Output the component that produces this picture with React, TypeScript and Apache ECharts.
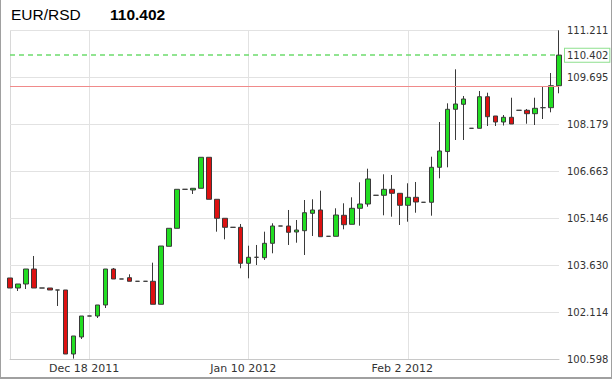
import React, { useEffect, useRef } from 'react';
import * as echarts from 'echarts';

const pairName = 'EUR/RSD';

const categories = [
  'Dec 6 2011', 'Dec 7 2011', 'Dec 8 2011', 'Dec 9 2011', 'Dec 11 2011', 'Dec 12 2011', 'Dec 13 2011',
  'Dec 14 2011', 'Dec 15 2011', 'Dec 16 2011', 'Dec 18 2011', 'Dec 19 2011', 'Dec 20 2011', 'Dec 21 2011',
  'Dec 22 2011', 'Dec 23 2011', 'Dec 25 2011', 'Dec 26 2011', 'Dec 27 2011', 'Dec 28 2011', 'Dec 29 2011',
  'Dec 30 2011', 'Jan 1 2012', 'Jan 2 2012', 'Jan 3 2012', 'Jan 4 2012', 'Jan 5 2012', 'Jan 6 2012',
  'Jan 8 2012', 'Jan 9 2012', 'Jan 10 2012', 'Jan 11 2012', 'Jan 12 2012', 'Jan 13 2012', 'Jan 15 2012',
  'Jan 16 2012', 'Jan 17 2012', 'Jan 18 2012', 'Jan 19 2012', 'Jan 20 2012', 'Jan 22 2012', 'Jan 23 2012',
  'Jan 24 2012', 'Jan 25 2012', 'Jan 26 2012', 'Jan 27 2012', 'Jan 29 2012', 'Jan 30 2012', 'Jan 31 2012',
  'Feb 1 2012', 'Feb 2 2012', 'Feb 3 2012', 'Feb 5 2012', 'Feb 6 2012', 'Feb 7 2012', 'Feb 8 2012',
  'Feb 9 2012', 'Feb 10 2012', 'Feb 12 2012', 'Feb 13 2012', 'Feb 14 2012', 'Feb 15 2012', 'Feb 16 2012',
  'Feb 17 2012', 'Feb 19 2012', 'Feb 20 2012', 'Feb 21 2012', 'Feb 22 2012', 'Feb 23 2012', 'Feb 24 2012',
];

const opens = [
  103.211, 102.888, 103.017, 103.501, 102.888, 102.888, 102.824, 102.824, 100.759, 101.308,
  101.985, 101.985, 102.340, 103.501, 103.179, 103.221, 103.105, 103.105, 103.105, 102.363,
  104.234, 104.814, 106.072, 106.050, 106.105, 107.105, 105.750, 105.137, 104.846, 104.846,
  103.685, 103.879, 103.866, 104.330, 104.888, 104.888, 104.695, 104.737, 105.298, 105.405,
  104.556, 104.556, 105.234, 104.943, 105.459, 105.598, 105.879, 105.879, 106.072, 105.943,
  105.556, 105.814, 105.653, 105.653, 106.782, 107.290, 108.653, 108.814, 108.040, 108.040,
  109.059, 108.437, 108.243, 108.395, 108.621, 108.621, 108.511, 108.705, 108.705, 109.414,
];
const closes = [
  102.888, 103.017, 103.501, 102.888, 102.888, 102.824, 102.824, 100.759, 101.340, 101.985,
  101.985, 102.340, 103.501, 103.179, 103.179, 103.105, 103.105, 103.105, 102.363, 104.243,
  104.814, 106.072, 106.072, 106.105, 107.105, 105.750, 105.137, 104.846, 104.846, 103.685,
  103.879, 103.879, 104.330, 104.888, 104.888, 104.685, 104.759, 105.317, 105.405, 104.543,
  104.556, 105.243, 104.930, 105.459, 105.598, 106.405, 105.879, 106.072, 105.943, 105.556,
  105.814, 105.663, 105.653, 106.782, 107.308, 108.653, 108.824, 108.985, 108.040, 109.059,
  108.414, 108.243, 108.395, 108.179, 108.621, 108.511, 108.685, 108.705, 109.414, 110.402,
];
const lows = [
  102.888, 102.792, 102.856, 102.888, 102.888, 102.824, 102.308, 100.759, 100.610, 101.243,
  101.985, 101.921, 102.243, 103.179, 103.179, 103.105, 103.105, 103.105, 102.363, 102.363,
  104.234, 104.814, 106.072, 105.921, 106.105, 105.750, 104.705, 104.459, 104.846, 103.524,
  103.201, 103.630, 103.792, 104.008, 104.888, 104.276, 104.350, 103.953, 104.566, 104.543,
  104.556, 104.556, 104.782, 104.943, 104.898, 105.511, 105.879, 105.234, 105.188, 104.921,
  105.027, 105.317, 105.653, 105.221, 106.427, 106.782, 107.663, 107.663, 108.040, 108.040,
  108.114, 108.114, 108.130, 108.179, 108.621, 108.188, 108.146, 108.340, 108.556, 109.169,
];
const highs = [
  103.211, 103.017, 103.501, 103.921, 102.888, 102.888, 102.824, 102.824, 101.340, 101.985,
  101.985, 102.340, 103.501, 103.534, 103.179, 103.330, 103.105, 103.105, 103.705, 104.243,
  104.814, 106.072, 106.072, 106.105, 107.105, 107.105, 105.750, 105.137, 104.846, 104.953,
  104.253, 104.276, 104.705, 104.976, 104.888, 105.405, 105.082, 105.727, 105.750, 106.027,
  104.556, 105.459, 105.621, 105.814, 106.298, 106.737, 105.879, 106.556, 106.534, 105.943,
  106.266, 106.308, 105.653, 107.124, 108.243, 108.846, 109.943, 109.082, 108.040, 109.243,
  109.188, 108.437, 108.469, 109.027, 108.621, 108.663, 109.027, 109.372, 109.824, 111.200,
];

const yTicks = [100.598, 102.114, 103.63, 105.146, 106.663, 108.179, 109.695, 111.211];
const xTickLabels = ['Dec 18 2011', 'Jan 10 2012', 'Feb 2 2012'];
const referenceLevel = 109.405;

export default function App() {
  const ref = useRef<HTMLDivElement>(null);

  useEffect(() => {
    if (!ref.current) return;
    const chart = echarts.init(ref.current, null, { renderer: 'svg' });
    const lastClose = closes[closes.length - 1];
    const yMin = yTicks[0];
    const yMax = yTicks[yTicks.length - 1];
    const yInterval = +((yMax - yMin) / (yTicks.length - 1)).toFixed(6);
    const ohlc = categories.map((_, i) => [opens[i], closes[i], lows[i], highs[i]]);
    const showX = (i: number) => xTickLabels.indexOf(categories[i]) >= 0;

    chart.setOption({
      animation: false,
      backgroundColor: '#ffffff',
      title: [
        {
          text: pairName,
          left: 11,
          top: 5,
          padding: 0,
          textStyle: { fontFamily: 'Liberation Sans', fontSize: 15.5, fontWeight: 'normal', color: '#000', lineHeight: 18 },
        },
        {
          text: lastClose.toFixed(3),
          left: 110,
          top: 5,
          padding: 0,
          textStyle: { fontFamily: 'Liberation Sans', fontSize: 15.5, fontWeight: 'bold', color: '#000', lineHeight: 18 },
        },
      ],
      grid: { left: 10, right: 53, top: 30, bottom: 20, containLabel: false },
      xAxis: {
        type: 'category',
        data: categories,
        boundaryGap: false,
        axisLine: { show: true, lineStyle: { color: '#c8c8c8', width: 1 } },
        axisTick: { show: false },
        axisLabel: {
          interval: (i: number) => showX(i),
          margin: 4,
          padding: [0, 11, 0, 0],
          fontFamily: 'DejaVu Sans',
          fontSize: 11,
          color: '#333',
        },
        splitLine: {
          show: true,
          interval: (i: number) => showX(i),
          lineStyle: { color: '#e2e2e2', width: 1 },
        },
      },
      yAxis: {
        type: 'value',
        position: 'right',
        min: yMin,
        max: yMax,
        interval: yInterval,
        axisLine: { show: false },
        axisTick: { show: false },
        axisLabel: {
          margin: 8,
          fontFamily: 'DejaVu Sans',
          fontSize: 10,
          color: '#333',
          formatter: (v: number) => v.toFixed(3),
        },
        splitLine: { show: true, lineStyle: { color: '#e2e2e2', width: 1 } },
      },
      graphic: [
        { type: 'line', shape: { x1: 10.5, y1: 30, x2: 10.5, y2: 359 }, style: { stroke: '#d8d8d8', lineWidth: 1 }, z: 0 },
      ],
      series: [
        {
          type: 'candlestick',
          data: ohlc,
          barWidth: 5,
          itemStyle: {
            color: '#22dd22',
            color0: '#dd1111',
            borderColor: '#3a3a3a',
            borderColor0: '#3a3a3a',
            borderColorDoji: '#3a3a3a',
            borderWidth: 1,
          },
          markLine: {
            silent: true,
            symbol: 'none',
            animation: false,
            data: [
              {
                yAxis: referenceLevel,
                lineStyle: { color: '#f08a8a', type: 'solid', width: 1 },
                label: { show: false },
              },
              {
                yAxis: lastClose,
                lineStyle: { color: 'rgb(110,220,110)', type: [5, 4], width: 1.5, opacity: 1 },
                label: {
                  show: true,
                  position: 'end',
                  distance: 6,
                  formatter: lastClose.toFixed(3),
                  fontFamily: 'DejaVu Sans',
                  fontSize: 10,
                  color: '#333',
                  backgroundColor: '#ffffff',
                  borderColor: '#8ee08e',
                  borderWidth: 1,
                  padding: [2, 1, 1, 2],
                },
              },
            ],
          },
        },
      ],
    });

    return () => chart.dispose();
  }, []);

  return (
    <div style={{ position: 'absolute', left: 0, top: 0, width: 612, height: 379 }}>
      <div ref={ref} style={{ position: 'absolute', left: 0, top: 0, width: 612, height: 379 }} />
      <div
        style={{
          position: 'absolute',
          left: 0,
          top: 0,
          width: 612,
          height: 379,
          boxSizing: 'border-box',
          borderLeft: '1px solid #a0a0a0',
          borderRight: '1px solid #a0a0a0',
          borderBottom: '2px solid #a0a0a0',
          pointerEvents: 'none',
        }}
      />
    </div>
  );
}
